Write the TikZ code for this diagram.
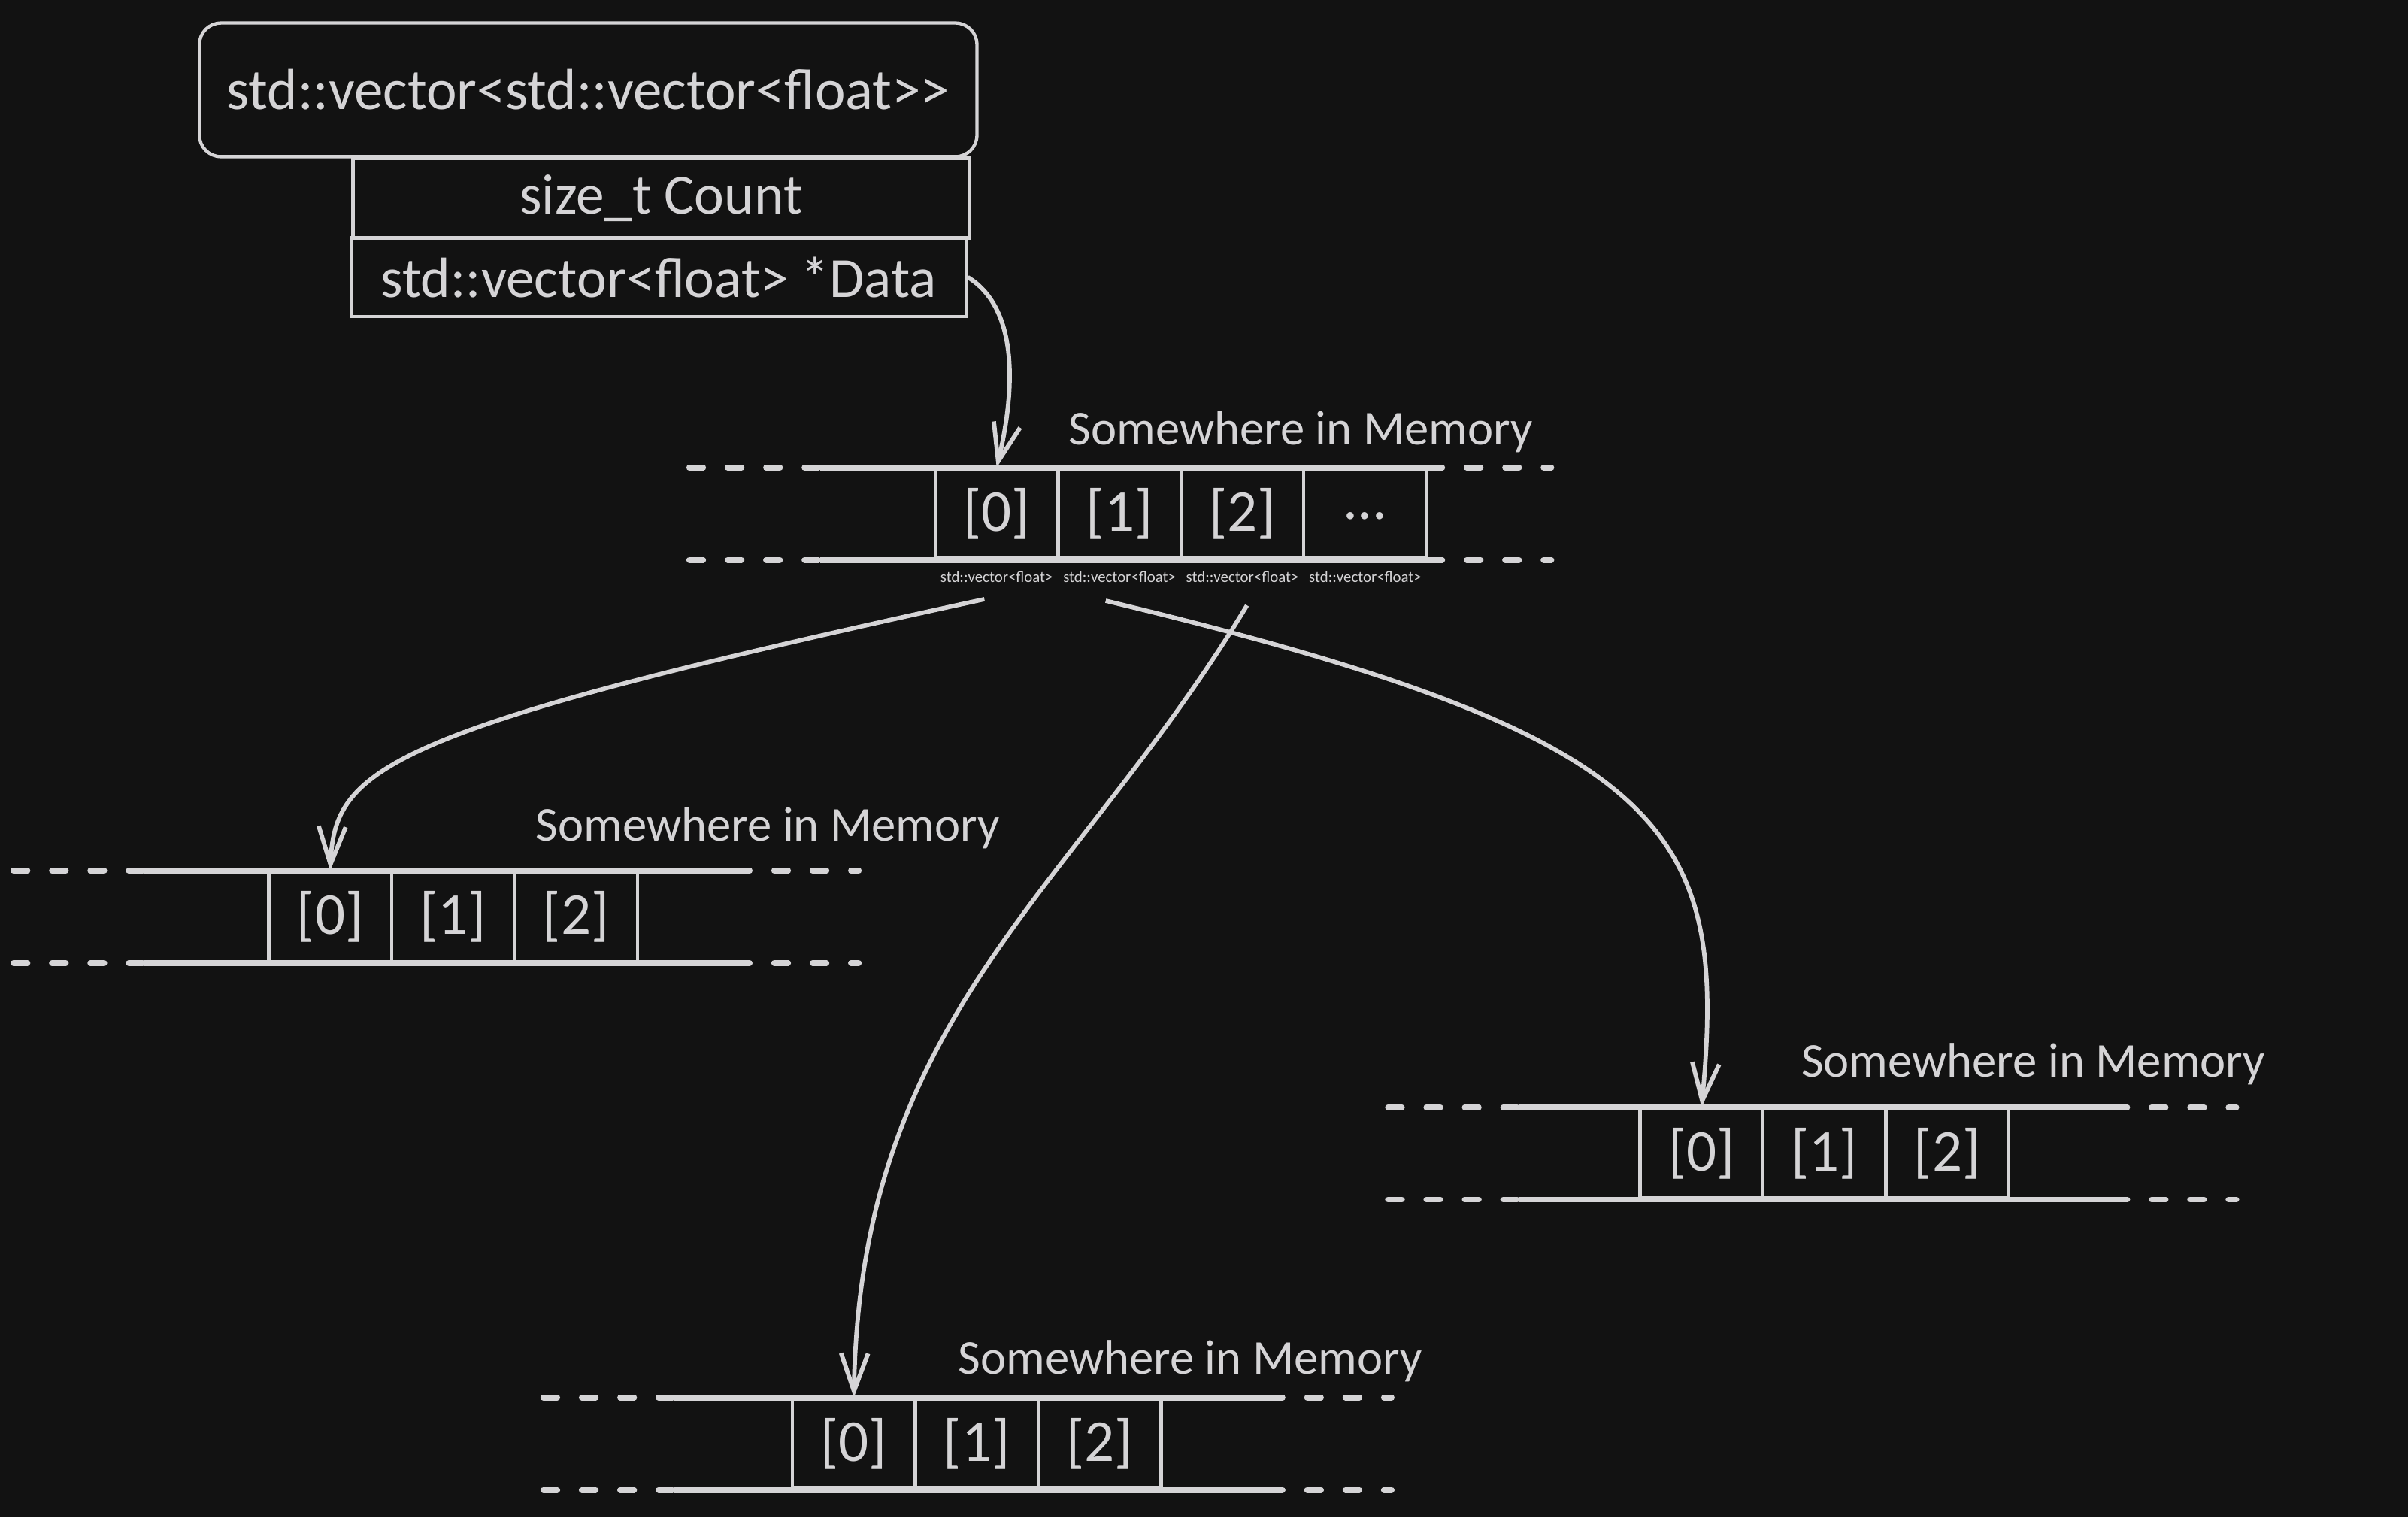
\documentclass[tikz,border=0pt]{standalone}
\usepackage{fontspec}
\setmainfont[Ligatures=TeXOff]{Carlito}
\usetikzlibrary{arrows.meta,positioning}
\definecolor{chalk}{RGB}{213,212,214}
\definecolor{board}{RGB}{18,18,18}

\begin{document}
\begin{tikzpicture}[x=0.01cm,y=-0.01cm,
  every node/.style={text=chalk},
  field/.style={draw=chalk,line width=0.6pt,inner sep=0pt,font=\fontsize{10.5}{12}\selectfont},
  cell/.style={draw=chalk,line width=0.6pt,minimum width=0.8cm,minimum height=0.58cm,inner sep=0pt,font=\fontsize{11}{13}\selectfont},
  rail/.style={draw=chalk,line width=1.1pt},
  gap/.style={draw=chalk,line width=1.1pt,line cap=round,dash pattern=on 0.09cm off 0.16cm},
  note/.style={font=\fontsize{9}{11}\selectfont},
  tiny/.style={inner sep=0pt,font=\fontsize{2.9}{4}\selectfont},
  ptr/.style={draw=chalk,line width=0.8pt,-{Straight Barb[length=7pt,width=5pt]}}]
  \fill[board] (0,0) rectangle (1568,988);
  \useasboundingbox (0,0) rectangle (1568,988);

  % the struct:
  \node[field,rounded corners=0.14cm,minimum width=5.06cm,minimum height=0.87cm,font=\fontsize{10.7}{13}\selectfont] (vec) at (383,58.5) {std::vector<std::vector<float>>};
  \node[field,minimum width=4.01cm,minimum height=0.52cm] (count) at (430.5,129) {size\_t Count};
  \node[field,minimum width=4.00cm,minimum height=0.51cm] (data) at (429,180.5) {std::vector<float> *Data};

  % outer buffer:
  \foreach \i/\t in {0/[0],1/[1],2/[2],3/{\raisebox{-0.4ex}{...}}}
    \node[cell] (T\i) at (649+80*\i,334.5) {\t};
  \foreach \i in {0,1,2,3}
    \node[tiny,below=0.07cm of T\i] (lbl\i) {std::vector<float>};
  \node[note] (tmem) at (847,281) {Somewhere in Memory};

  % inner buffers:
  \foreach \r/\x/\y in {L/215/597, R/1108/751, B/556/940}
    \foreach \i in {0,1,2}
      \node[cell] (\r\i) at (\x+80*\i,\y) {[\i]};
  \node[note] (lmem) at (500,539) {Somewhere in Memory};
  \node[note] (rmem) at (1324,693) {Somewhere in Memory};
  \node[note] (bmem) at (775,886) {Somewhere in Memory};

  % memory rails:
  \foreach \r/\n/\a/\b in {T/3/0.74/0, L/2/0.80/0.63, R/2/0.78/0.67, B/2/0.76/0.69}{
    \draw[rail] ([xshift=-\a cm]\r0.north west) -- ([xshift=\b cm]\r\n.north east);
    \draw[rail] ([xshift=-\a cm]\r0.south west) -- ([xshift=\b cm]\r\n.south east);
    \draw[gap] ([xshift=-\a cm-0.85cm]\r0.north west) -- ([xshift=-\a cm]\r0.north west);
    \draw[gap] ([xshift=-\a cm-0.85cm]\r0.south west) -- ([xshift=-\a cm]\r0.south west);
    \draw[gap] ([xshift=\b cm]\r\n.north east) -- ([xshift=\b cm+0.8cm]\r\n.north east);
    \draw[gap] ([xshift=\b cm]\r\n.south east) -- ([xshift=\b cm+0.8cm]\r\n.south east);
  }

  % pointers:
  \draw[ptr] (data.east) .. controls (662,200) and (662,250) .. (T0.north);
  \draw[ptr] ([xshift=-0.08cm,yshift=-0.1cm]lbl0.south) .. controls (250,475) and (218,500) .. (L0.north);
  \draw[ptr] ([xshift=-0.09cm,yshift=-0.11cm]lbl1.south) .. controls (1090,480) and (1125,540) .. (R0.north);
  \draw[ptr] ([xshift=0.03cm,yshift=-0.14cm]lbl2.south) .. controls (700,580) and (560,660) .. (B0.north);
\end{tikzpicture}
\end{document}
